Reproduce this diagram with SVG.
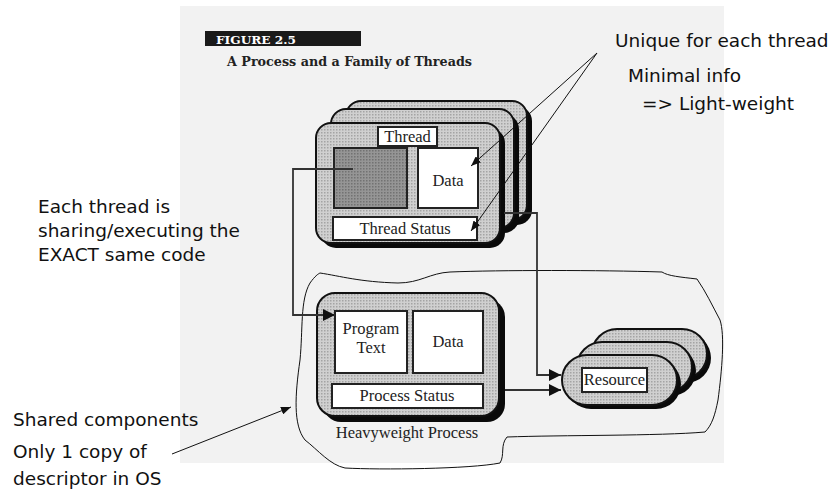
<svg xmlns="http://www.w3.org/2000/svg" width="834" height="495" viewBox="0 0 834 495">
<style>
.ann{font-family:"DejaVu Sans","Liberation Sans",sans-serif;font-size:18.5px;fill:#111}
.lbl{font-family:"Liberation Serif","DejaVu Serif",serif;font-size:16.5px;fill:#222}
.card{fill:url(#ht);stroke:#111;stroke-width:2}
.shadow{fill:#0a0a0a}
.box{fill:#fff;stroke:#222;stroke-width:2}
.conn{fill:none;stroke:#333;stroke-width:1.8}
.thin{fill:none;stroke:#111;stroke-width:1}
</style>
<defs>
<pattern id="ht" width="3" height="3" patternUnits="userSpaceOnUse">
<rect width="3" height="3" fill="#d0d0d0"/>
<rect width="1.5" height="1.5" fill="#a4a4a4"/>
</pattern>
<pattern id="htd" width="3" height="3" patternUnits="userSpaceOnUse">
<rect width="3" height="3" fill="#959595"/>
<rect width="1.5" height="1.5" fill="#727272"/>
</pattern>
<marker id="big" markerWidth="12" markerHeight="12" refX="12" refY="6" orient="auto" markerUnits="userSpaceOnUse">
<path d="M0,0 L12,6 L0,12 Z" fill="#111"/>
</marker>
<marker id="small" markerWidth="10" markerHeight="8" refX="10" refY="4" orient="auto" markerUnits="userSpaceOnUse">
<path d="M0,0 L10,4 L0,8 Z" fill="#111"/>
</marker>
</defs>
<rect width="834" height="495" fill="#fff"/>
<rect x="180" y="6" width="544" height="457" fill="#f2f2f2"/>

<g id="title">
<rect x="205" y="31" width="156" height="15" fill="#1a1a1a"/>
<text x="216" y="43.5" font-family="DejaVu Serif, Liberation Serif, serif" font-weight="bold" font-size="11.5" fill="#fff" textLength="80" lengthAdjust="spacingAndGlyphs">FIGURE 2.5</text>
<text x="227" y="65.5" font-family="DejaVu Serif, Liberation Serif, serif" font-weight="bold" font-size="12.5" fill="#222" textLength="245" lengthAdjust="spacingAndGlyphs">A Process and a Family of Threads</text>
</g>

<g id="boundary">
<path class="thin" d="M320,273 C340,276 360,282 398,283 C420,283 430,273 450,272 C500,270 600,270 662,272 C668,276 680,277 697,279 C706,292 712,305 720,320 C725,335 722,370 718,400 C715,415 712,425 705,432 C660,436 560,435 507,437 C500,445 505,455 500,463 C470,469 380,470 345,468 C330,465 318,450 305,440 C293,425 295,395 300,360 C303,330 300,300 310,283 C315,276 318,274 320,273 Z"/>
</g>

<g id="thread-stack">
<rect class="shadow" x="351" y="106" width="181" height="119" rx="15"/>
<rect class="card" x="346" y="101" width="181" height="119" rx="15"/>
<rect class="shadow" x="336" y="114" width="183" height="119" rx="15"/>
<rect class="card" x="331" y="109" width="183" height="119" rx="15"/>
<rect class="shadow" x="321" y="128" width="184" height="120" rx="15"/>
<rect class="card" x="316" y="123" width="184" height="120" rx="15"/>
<rect class="box" x="378" y="127" width="59" height="19"/>
<text class="lbl" x="407.5" y="142" text-anchor="middle">Thread</text>
<rect x="334" y="148" width="73" height="60" fill="url(#htd)" stroke="#222" stroke-width="2"/>
<rect class="box" x="418" y="148" width="60" height="60"/>
<text class="lbl" x="448" y="186" text-anchor="middle">Data</text>
<rect class="box" x="333" y="217" width="144" height="23"/>
<text class="lbl" x="405" y="234" text-anchor="middle">Thread Status</text>
</g>

<g id="process">
<rect class="shadow" x="323" y="299" width="182" height="123" rx="18"/>
<rect class="card" x="317" y="293" width="182" height="123" rx="18"/>
<rect class="box" x="335" y="311" width="72" height="62"/>
<text class="lbl" x="371" y="334" text-anchor="middle">Program</text>
<text class="lbl" x="371" y="353" text-anchor="middle">Text</text>
<rect class="box" x="413" y="311" width="70" height="62"/>
<text class="lbl" x="448" y="347" text-anchor="middle">Data</text>
<rect class="box" x="332" y="384" width="151" height="24"/>
<text class="lbl" x="407" y="401" text-anchor="middle">Process Status</text>
<text class="lbl" x="407" y="438" text-anchor="middle">Heavyweight Process</text>
</g>

<g id="resource-stack">
<rect class="shadow" x="596" y="333" width="115" height="50" rx="25"/>
<rect class="card" x="592" y="329" width="115" height="50" rx="25"/>
<rect class="shadow" x="581" y="346" width="115" height="50" rx="25"/>
<rect class="card" x="577" y="342" width="115" height="50" rx="25"/>
<rect class="shadow" x="566" y="359" width="115" height="50" rx="25"/>
<rect class="card" x="562" y="355" width="115" height="50" rx="25"/>
<rect class="box" x="582" y="368" width="65" height="24"/>
<text class="lbl" x="614.5" y="385" text-anchor="middle">Resource</text>
</g>

<g id="connectors">
<path class="conn" d="M504,213 H537 V375 H561" marker-end="url(#big)"/>
<path class="conn" d="M505,390 H561" marker-end="url(#big)"/>
<path class="conn" d="M353,169 H293 V315 H335" marker-end="url(#big)"/>
</g>

<g id="annotations">
<path class="thin" d="M597,53 L471,166" marker-end="url(#small)"/>
<path class="thin" d="M597,53 L471,231" marker-end="url(#small)"/>
<path class="thin" d="M172,454 L291,407" marker-end="url(#small)"/>
<text class="ann" x="615" y="47">Unique for each thread</text>
<text class="ann" x="628" y="82">Minimal info</text>
<text class="ann" x="642" y="110">=&gt; Light-weight</text>
<text class="ann" x="38" y="213">Each thread is</text>
<text class="ann" x="38" y="237">sharing/executing the</text>
<text class="ann" x="38" y="261">EXACT same code</text>
<text class="ann" x="13" y="426">Shared components</text>
<text class="ann" x="13" y="458">Only 1 copy of</text>
<text class="ann" x="13" y="485">descriptor in OS</text>
</g>
</svg>
